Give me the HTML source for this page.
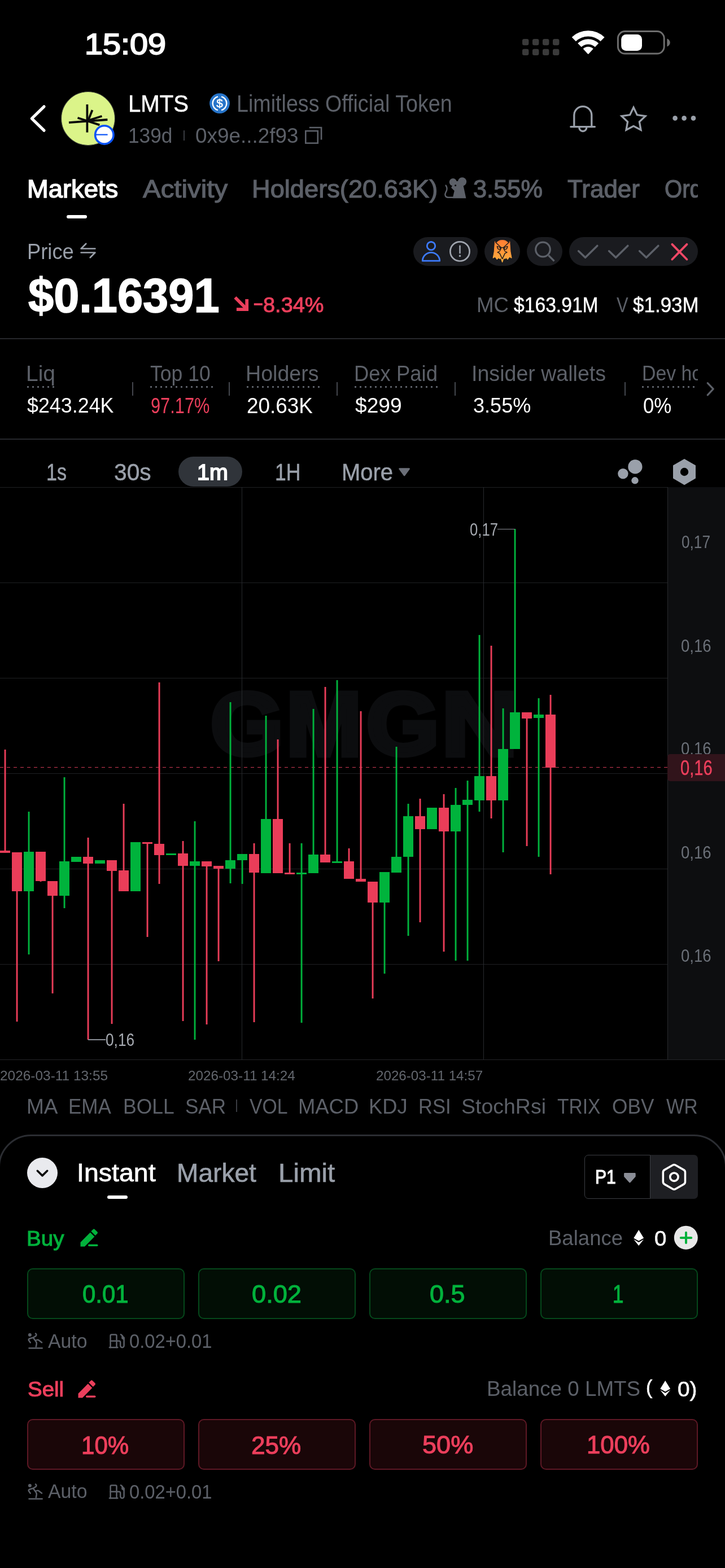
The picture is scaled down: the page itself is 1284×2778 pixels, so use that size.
<!DOCTYPE html>
<html lang="en">
<head>
<meta charset="utf-8">
<meta name="viewport" content="width=1284, initial-scale=1">
<title>LMTS – Limitless Official Token</title>
<style>
*{box-sizing:border-box;margin:0;padding:0}
html,body{width:1284px;height:2778px;background:#000;overflow:hidden}
body{font-family:"Liberation Sans",Arial,sans-serif;color:#fff;position:relative;-webkit-font-smoothing:antialiased}
#app{position:absolute;left:0;top:0;width:1284px;height:2778px;overflow:hidden;background:#000}
.t{position:absolute;white-space:pre;transform-origin:0 0;display:block}
.abs{position:absolute;display:block}
.clip{position:absolute;overflow:hidden}
.hr{position:absolute;left:0;width:1284px;height:2px;background:#26282c}
.pill{position:absolute;top:420px;height:50.5px;border-radius:26px;background:#1a1b1f}
.vsep{position:absolute;width:2px;background:#44474e}
.dot{position:absolute;height:3px;top:684px;background-image:linear-gradient(90deg,#5c6068 0 3px,transparent 3px 9px);background-size:9px 3px;background-repeat:repeat-x}
.btn{position:absolute;width:279px;height:90px;border-radius:10px;border:2px solid}
.buy{top:2247px;background:#020e05;border-color:#05481b}
.sell{top:2514px;background:#1a0608;border-color:#5e1825}
section,header,nav,footer,main{display:block}
</style>
</head>
<body>
<div id="app">

<!-- ===== status bar ===== -->
<header id="statusbar">
<span class="t" style="left:149.8px;top:53px;font-size:51.14px;line-height:51.14px;color:#ffffff;transform:scaleX(1.1249);-webkit-text-stroke:2.0px #ffffff;">15:09</span>
<svg class="abs" style="left:900px;top:30px" width="320" height="100" viewBox="900 30 320 100">
  <g fill="#3a3a3a">
    <rect x="925" y="69" width="11.4" height="11.3" rx="3.2"/><rect x="943" y="69" width="11.4" height="11.3" rx="3.2"/><rect x="961" y="69" width="11.4" height="11.3" rx="3.2"/><rect x="979" y="69" width="11.4" height="11.3" rx="3.2"/>
    <rect x="925" y="86.7" width="11.4" height="11.3" rx="3.2"/><rect x="943" y="86.7" width="11.4" height="11.3" rx="3.2"/><rect x="961" y="86.7" width="11.4" height="11.3" rx="3.2"/><rect x="979" y="86.7" width="11.4" height="11.3" rx="3.2"/>
  </g>
  <g fill="#fff"><path d="M1012.8 65.9A41.6 41.6 0 0 1 1070.6 65.9L1063.5 73.2A31.4 31.4 0 0 0 1019.9 73.2Z"/><path d="M1023.2 76.7A26.6 26.6 0 0 1 1060.2 76.7L1053.8 83.3A17.4 17.4 0 0 0 1029.6 83.3Z"/><path d="M1032.7 86.5A12.9 12.9 0 0 1 1050.7 86.5L1042.7 95.2Q1041.7 96.2 1040.7 95.2Z"/></g>
  <rect x="1094.400" y="55.600" width="81.800" height="39.500" rx="12.500" fill="none" stroke="#6e6e6e" stroke-width="3"/>
  <rect x="1100.2" y="61" width="36.8" height="29" rx="8.5" fill="#fff"/>
  <path d="M1181.3 68.4c3.2 1 5.4 3.8 5.4 7s-2.2 6-5.4 7z" fill="#6e6e6e"/>
</svg>
</header>

<!-- ===== token header ===== -->
<section id="tokenhead">
<svg class="abs" style="left:30px;top:150px" width="240" height="120" viewBox="30 150 240 120">
  <path d="M78 188.8 56.3 210 78 231.2" fill="none" stroke="#fff" stroke-width="5.2" stroke-linecap="round" stroke-linejoin="round"/>
  <circle cx="156" cy="210" r="47.5" fill="#dbf489" stroke="#3d4138" stroke-width="1.2"/>
  <g stroke="#0a0a0a" stroke-width="3.8" fill="none">
    <path d="M154.4 185v49.6"/><path d="M122 217.2 190.4 212"/><path d="M137.5 208.8 176.4 221.4"/><path d="M163.5 195 156.3 213"/><path d="M180.5 205.8 154.4 214"/>
  </g>
  <circle cx="184.800" cy="238.900" r="16.200" fill="#fff" stroke="#0a53f7" stroke-width="3.600"/>
  <path d="M170 238.600h20.600" stroke="#0a53f7" stroke-width="2.200"/>
</svg>
<svg class="abs" style="left:365px;top:160px" width="48" height="48" viewBox="365 160 48 48">
  <circle cx="389" cy="183.100" r="17.900" fill="#2775ca"/>
  <path d="M385.900 171.100a12.400 12.400 0 0 0 0 24M392.100 171.100a12.400 12.400 0 0 1 0 24" fill="none" stroke="#fff" stroke-width="2.400"/>
  <text x="389" y="190.100" font-family="Liberation Sans, sans-serif" font-size="20.500" text-anchor="middle" fill="#fff" stroke="#fff" stroke-width="0.500">$</text>
</svg>
<span class="t" style="left:227.0px;top:162px;font-size:42.55px;line-height:42.55px;color:#ffffff;transform:scaleX(0.9420);-webkit-text-stroke:0.6px #ffffff;">LMTS</span>
<span class="t" style="left:418.8px;top:163px;font-size:42.27px;line-height:42.27px;color:#5c6068;transform:scaleX(0.8911);">Limitless Official Token</span>
<span class="t" style="left:227.0px;top:222px;font-size:37.40px;line-height:37.40px;color:#5c6068;transform:scaleX(0.9430);">139d</span>
<span class="t" style="left:346.0px;top:222px;font-size:37.40px;line-height:37.40px;color:#5c6068;transform:scaleX(0.9864);">0x9e...2f93</span>
<div class="vsep" style="left:324.6px;top:231px;height:17.5px;background:#3a3c42"></div>
<svg class="abs" style="left:536px;top:220px" width="40" height="40" viewBox="536 220 40 40">
  <rect x="541.3" y="232" width="21.5" height="21.6" fill="none" stroke="#5c6068" stroke-width="2.6"/>
  <path d="M547.8 226h21.3v21.6" fill="none" stroke="#5c6068" stroke-width="2.6"/>
</svg>
<svg class="abs" style="left:1000px;top:170px" width="250" height="80" viewBox="1000 170 250 80">
  <g fill="none" stroke="#9aa0aa" stroke-width="3.300" stroke-linecap="round" stroke-linejoin="round">
    <path d="M1016.8 224.6v-20.5a15.5 15.5 0 0 1 31 0v20.5"/>
    <path d="M1010.8 224.6h42.6"/>
    <path d="M1025.8 226a6.5 6.5 0 0 0 13 0"/>
    <path d="M1122 190.3l6.4 13.3 14.6 2-10.6 10.2 2.6 14.5-13-7-13 7 2.6-14.5-10.6-10.200 14.6-2z" stroke-linejoin="miter"/>
  </g>
  <g fill="#9aa0aa"><circle cx="1195.6" cy="209.4" r="4.3"/><circle cx="1211.6" cy="209.4" r="4.3"/><circle cx="1228" cy="209.4" r="4.3"/></g>
</svg>
</section>

<!-- ===== tabs ===== -->
<nav id="tabs">
<span class="t" style="left:47.5px;top:312px;font-size:44.79px;line-height:44.79px;color:#ffffff;transform:scaleX(1.0117);-webkit-text-stroke:1.6px #ffffff;">Markets</span>
<span class="t" style="left:253.0px;top:312px;font-size:44.79px;line-height:44.79px;color:#5c6068;transform:scaleX(1.0588);-webkit-text-stroke:1.2px #5c6068;">Activity</span>
<span class="t" style="left:446.0px;top:312px;font-size:44.79px;line-height:44.79px;color:#5c6068;transform:scaleX(1.0098);-webkit-text-stroke:1.2px #5c6068;">Holders(20.63K)</span>
<span class="t" style="left:838.4px;top:313px;font-size:44.05px;line-height:44.05px;color:#5c6068;transform:scaleX(0.9843);-webkit-text-stroke:1.2px #5c6068;">3.55%</span>
<span class="t" style="left:1005.0px;top:312px;font-size:44.79px;line-height:44.79px;color:#5c6068;transform:scaleX(0.9829);-webkit-text-stroke:1.2px #5c6068;">Trader</span>
<div class="clip" style="left:1170px;top:300px;width:66px;height:70px"><span class="t" style="left:7.1px;top:13px;font-size:44.54px;line-height:44.54px;color:#5c6068;transform:scaleX(0.9000);-webkit-text-stroke:1.2px #5c6068;">Orders</span></div>
<div class="abs" style="left:117.500px;top:381px;width:36px;height:6px;border-radius:3px;background:#fff"></div>
<svg class="abs" style="left:784px;top:308px" width="46" height="48" viewBox="784 308 46 48">
  <g fill="#5c6068">
    <circle cx="802.3" cy="322.6" r="6.6"/><circle cx="818.6" cy="321.8" r="7.6"/>
    <path d="M806 322c6-2.500 12-1 14 4l5.400 25.200h-23.800l3.100-13.200-5.600-5.600 4.600-8.600z"/>
  </g>
  <circle cx="806.600" cy="328.600" r="1.500" fill="#000"/>
  <path d="M789.6 328.500c2.800 4 2.600 8-.2 12.400-2.200 4-1 8.600 4 8.800h8.500" fill="none" stroke="#5c6068" stroke-width="2.400" stroke-linecap="round"/>
</svg>
</nav>

<!-- ===== price ===== -->
<section id="price">
<span class="t" style="left:47.7px;top:427px;font-size:38.24px;line-height:38.24px;color:#9aa0aa;transform:scaleX(0.9508);">Price</span>
<span class="t" style="left:50.0px;top:482px;font-size:84.92px;line-height:84.92px;color:#ffffff;transform:scaleX(0.9560);font-weight:700;-webkit-text-stroke:1.6px #ffffff;">$0.16391</span>
<span class="t" style="left:447.0px;top:512px;font-size:47.84px;line-height:47.84px;color:#ec3f5c;transform:scaleX(1.3004);">-</span><span class="t" style="left:465.8px;top:522px;font-size:37.47px;line-height:37.47px;color:#ec3f5c;transform:scaleX(1.0121);-webkit-text-stroke:1.0px #ec3f5c;">8.34%</span>
<span class="t" style="left:844.2px;top:522px;font-size:37.13px;line-height:37.13px;color:#5c6068;transform:scaleX(0.9879);">MC</span>
<span class="t" style="left:909.5px;top:522px;font-size:37.13px;line-height:37.13px;color:#ffffff;transform:scaleX(0.9062);-webkit-text-stroke:0.5px #ffffff;">$163.91M</span>
<span class="t" style="left:1092.3px;top:522px;font-size:37.13px;line-height:37.13px;color:#5c6068;transform:scaleX(0.8339);">V</span>
<span class="t" style="left:1120.5px;top:522px;font-size:37.47px;line-height:37.47px;color:#ffffff;transform:scaleX(0.9338);-webkit-text-stroke:0.5px #ffffff;">$1.93M</span>
<svg class="abs" style="left:136px;top:425px" width="40" height="40" viewBox="136 425 40 40">
  <g fill="none" stroke="#9aa0aa" stroke-width="2.700" stroke-linecap="round" stroke-linejoin="round">
    <path d="M152.300 431.700 143.600 440.500H168.400"/><path d="M159.700 456.300 168.400 447.500H143.600"/>
  </g>
</svg>
<svg class="abs" style="left:410px;top:520px" width="36" height="36" viewBox="410 520 36 36">
  <g fill="none" stroke="#ec3f5c" stroke-width="5.800" stroke-linejoin="miter">
    <path d="M416.400 527 436.400 547"/><path d="M437.200 530v18.100h-18.300"/>
  </g>
</svg>
<div class="pill" style="left:732.2px;width:114px"></div>
<div class="pill" style="left:858px;width:63px"></div>
<div class="pill" style="left:933.2px;width:63px"></div>
<div class="pill" style="left:1008px;width:228px"></div>
<svg class="abs" style="left:730px;top:415px" width="510" height="60" viewBox="730 415 510 60">
  <g fill="none" stroke="#3d7bff" stroke-width="2.800" stroke-linejoin="round">
    <circle cx="763.5" cy="435.700" r="7.200"/>
    <path d="M748.300 462.200c0-8 6.800-14.800 15.200-14.800s15.200 6.800 15.200 14.800z"/>
  </g>
  <circle cx="814.5" cy="445.400" r="17.100" fill="none" stroke="#a0a5ae" stroke-width="2.700"/>
  <path d="M814.500 435.800v12.500" stroke="#9aa0aa" stroke-width="2.600" stroke-linecap="round"/>
  <circle cx="814.500" cy="453.400" r="1.800" fill="#9aa0aa"/>
  <defs><linearGradient id="eg" x1="0" y1="0" x2="0" y2="1"><stop offset="0" stop-color="#ff7d33"/><stop offset="1" stop-color="#ffb03f"/></linearGradient></defs><path d="M889.6 425.6 L894.1 426.1 L897.6 427.9 L899.9 430.2 L902.8 427.9 L903.0 432.5 L903.4 438.0 L904.0 446.0 L906.1 457.2 L902.4 455.2 L899.0 459.8 L896.4 456.8 L894.2 458.6 L892.2 457.4 L889.6 464.8 L887.0 457.4 L885.0 458.6 L882.8 456.8 L880.2 459.8 L876.8 455.2 L873.1 457.2 L875.2 446.0 L875.8 438.0 L876.2 432.5 L876.4 427.9 L879.3 430.2 L881.6 427.9 L885.1 426.1Z" fill="url(#eg)" stroke="url(#eg)" stroke-width="1" stroke-linejoin="round"/><path d="M877.4 429 L887.2 438.2 Q889.6 439.4 892.0 438.2 L901.8 429 M880.4 436.4 Q881.0 441.6 884.2 441.9 Q886.2 441.4 887.0 439.6 Q883.6 437 880.4 436.4 M898.8 436.4 Q898.2 441.6 895.0 441.9 Q893.0 441.4 892.2 439.6 Q895.6 437 898.8 436.4 M887.4 440.2 L885.0 445 L881.2 447 L884.8 448.6 L889.6 458.6 L894.4 448.6 L898.0 447 L894.2 445 L891.8 440.2" fill="none" stroke="#17181b" stroke-width="1.400" stroke-linejoin="round" stroke-linecap="round"/>
  <circle cx="961.500" cy="442" r="12.800" fill="none" stroke="#5c6068" stroke-width="3.200"/>
  <path d="M971.500 452.500 981.500 462.500" stroke="#5c6068" stroke-width="3.200" stroke-linecap="butt"/>
  <g fill="none" stroke="#5c6068" stroke-width="3.500" stroke-linecap="round" stroke-linejoin="round">
    <path d="M1024.600 444.800 1036.600 456.300 1057.800 435.400"/><path d="M1078.600 444.800 1090.600 456.300 1111.800 435.400"/><path d="M1132.600 444.800 1144.600 456.300 1165.800 435.400"/>
  </g>
  <path d="M1190.400 432.800 1216.400 459.500M1216.400 432.800 1190.400 459.500" stroke="#f04866" stroke-width="3.900" stroke-linecap="round"/>
</svg>
</section>
<div class="hr" style="top:598.7px"></div>

<!-- ===== stats ===== -->
<section id="stats">
<span class="t" style="left:46.4px;top:642px;font-size:39.32px;line-height:39.32px;color:#5c6068;transform:scaleX(0.9920);">Liq</span>
<span class="t" style="left:48.4px;top:700px;font-size:37.30px;line-height:37.30px;color:#ffffff;transform:scaleX(0.9610);">$243.24K</span>
<span class="t" style="left:266.0px;top:642px;font-size:39.09px;line-height:39.09px;color:#5c6068;transform:scaleX(0.9094);">Top 10</span>
<span class="t" style="left:267.0px;top:701px;font-size:37.87px;line-height:37.87px;color:#ec3f5c;transform:scaleX(0.8126);">97.17%</span>
<span class="t" style="left:435.3px;top:642px;font-size:39.09px;line-height:39.09px;color:#5c6068;transform:scaleX(0.9622);">Holders</span>
<span class="t" style="left:437.3px;top:701px;font-size:37.87px;line-height:37.87px;color:#ffffff;transform:scaleX(0.9742);">20.63K</span>
<span class="t" style="left:626.8px;top:642px;font-size:39.09px;line-height:39.09px;color:#5c6068;transform:scaleX(0.9329);">Dex Paid</span>
<span class="t" style="left:628.8px;top:700px;font-size:37.30px;line-height:37.30px;color:#ffffff;transform:scaleX(0.9961);">$299</span>
<span class="t" style="left:835.3px;top:642px;font-size:39.32px;line-height:39.32px;color:#5c6068;transform:scaleX(0.9559);">Insider wallets</span>
<span class="t" style="left:838.3px;top:700px;font-size:37.30px;line-height:37.30px;color:#ffffff;transform:scaleX(0.9679);">3.55%</span>
<div class="clip" style="left:1130px;top:630px;width:106px;height:70px"><span class="t" style="left:7.0px;top:13px;font-size:37.57px;line-height:37.57px;color:#5c6068;transform:scaleX(0.9000);">Dev holds</span></div>
<span class="t" style="left:1138.5px;top:701px;font-size:37.86px;line-height:37.86px;color:#ffffff;transform:scaleX(0.9200);">0%</span>
<div class="dot" style="left:48px;width:48px"></div>
<div class="dot" style="left:266px;width:111px"></div>
<div class="dot" style="left:437px;width:129px"></div>
<div class="dot" style="left:628px;width:147px"></div>
<div class="dot" style="left:1137px;width:98px"></div>
<div class="vsep" style="left:234.400px;top:677px;height:23.500px"></div>
<div class="vsep" style="left:404.800px;top:677px;height:23.500px"></div>
<div class="vsep" style="left:596.200px;top:677px;height:23.500px"></div>
<div class="vsep" style="left:805.300px;top:677px;height:23.500px"></div>
<div class="vsep" style="left:1105.600px;top:677px;height:23.500px"></div>
<svg class="abs" style="left:1244px;top:670px" width="30" height="40" viewBox="1244 670 30 40">
  <path d="M1253.200 678.600 1263.200 689.200 1253.200 699.800" fill="none" stroke="#5c6068" stroke-width="3.200" stroke-linecap="round" stroke-linejoin="round"/>
</svg>
</section>
<div class="hr" style="top:776.700px"></div>

<!-- ===== timeframe ===== -->
<section id="timeframe">
<div class="abs" style="left:315.600px;top:809.400px;width:113px;height:53px;border-radius:27px;background:#30343a"></div>
<span class="t" style="left:81.6px;top:816px;font-size:42.20px;line-height:42.20px;color:#9aa0aa;transform:scaleX(0.8089);-webkit-text-stroke:0.5px #9aa0aa;">1s</span>
<span class="t" style="left:201.8px;top:816px;font-size:42.20px;line-height:42.20px;color:#9aa0aa;transform:scaleX(0.9657);-webkit-text-stroke:0.5px #9aa0aa;">30s</span>
<span class="t" style="left:348.9px;top:817px;font-size:39.27px;line-height:39.27px;color:#ffffff;transform:scaleX(1.0041);-webkit-text-stroke:1.8px #ffffff;">1m</span>
<span class="t" style="left:486.7px;top:815px;font-size:42.55px;line-height:42.55px;color:#9aa0aa;transform:scaleX(0.8353);-webkit-text-stroke:0.5px #9aa0aa;">1H</span>
<span class="t" style="left:604.5px;top:815px;font-size:42.55px;line-height:42.55px;color:#9aa0aa;transform:scaleX(0.9399);-webkit-text-stroke:0.5px #9aa0aa;">More</span>
<svg class="abs" style="left:700px;top:800px" width="560" height="64" viewBox="700 800 560 64">
  <path d="M707.500 829.200h17.200c1 0 1.600 1.200 1 2l-8.400 11.600c-.6.800-1.800.8-2.400 0l-8.400-11.600c-.6-.8 0-2 1-2z" fill="#6b6f78"/>
  <g fill="#9aa0aa">
    <circle cx="1124.900" cy="826.900" r="12.600"/><circle cx="1103.400" cy="839.300" r="9.200"/><circle cx="1124.500" cy="851.300" r="6.200"/>
    <path fill-rule="evenodd" d="M1212 813 1232 824.500v23.100L1212 859.200 1192 847.600v-23.100zM1212 828.800a7.200 7.200 0 1 0 0 14.400 7.200 7.200 0 0 0 0-14.400z"/>
  </g>
</svg>
</section>

<!-- ===== chart ===== -->
<section id="chart">
<div id="watermark" aria-label="GMGN"><span class="t" style="left:373.0px;top:1205px;font-size:155.78px;line-height:155.78px;color:#0c0d0f;transform:scaleX(1.0626);font-weight:700;-webkit-text-stroke:9px #0c0d0f;">G</span><span class="t" style="left:507.0px;top:1204px;font-size:159.30px;line-height:159.30px;color:#0c0d0f;transform:scaleX(1.0042);font-weight:700;-webkit-text-stroke:9px #0c0d0f;">M</span><span class="t" style="left:649.0px;top:1205px;font-size:155.78px;line-height:155.78px;color:#0c0d0f;transform:scaleX(1.0626);font-weight:700;-webkit-text-stroke:9px #0c0d0f;">G</span><span class="t" style="left:782.0px;top:1204px;font-size:159.30px;line-height:159.30px;color:#0c0d0f;transform:scaleX(1.1735);font-weight:700;-webkit-text-stroke:9px #0c0d0f;">N</span></div>
<svg class="abs" style="left:0;top:863px" width="1284" height="1016" viewBox="0 863 1284 1016" shape-rendering="crispEdges">
<rect x="1182" y="863" width="102" height="1015" fill="#0d0e10"/>
<rect x="0" y="863" width="1182" height="1" fill="#1f2023"/>
<rect x="0" y="1032" width="1182" height="1" fill="#1f2023"/>
<rect x="0" y="1201" width="1182" height="1" fill="#1f2023"/>
<rect x="0" y="1370" width="1182" height="1" fill="#1f2023"/>
<rect x="0" y="1539" width="1182" height="1" fill="#1f2023"/>
<rect x="0" y="1708" width="1182" height="1" fill="#1f2023"/>
<rect x="0" y="1877" width="1182" height="1" fill="#1f2023"/>
<rect x="428" y="863" width="1" height="1015" fill="#27292d"/>
<rect x="856" y="863" width="1" height="1015" fill="#27292d"/>
<rect x="1182" y="863" width="1" height="1015" fill="#27292d"/>
<rect x="0" y="1877" width="1284" height="1" fill="#242528"/>
<line x1="0" y1="1359.5" x2="1182" y2="1359.5" stroke="#d03a55" stroke-width="1" stroke-dasharray="6 6" stroke-dashoffset="0"/>
<rect x="7.6" y="1328" width="2.9" height="183" fill="#ea3d59" shape-rendering="geometricPrecision"/>
<rect x="0" y="1507" width="18" height="4" fill="#ea3d59"/>
<rect x="28.6" y="1510" width="2.9" height="300" fill="#ea3d59" shape-rendering="geometricPrecision"/>
<rect x="21" y="1510" width="18" height="69" fill="#ea3d59"/>
<rect x="49.6" y="1438" width="2.9" height="253" fill="#00b33c" shape-rendering="geometricPrecision"/>
<rect x="42" y="1509" width="18" height="70" fill="#00b33c"/>
<rect x="70.6" y="1509" width="2.9" height="53" fill="#ea3d59" shape-rendering="geometricPrecision"/>
<rect x="63" y="1509" width="18" height="52" fill="#ea3d59"/>
<rect x="91.6" y="1561" width="2.9" height="199" fill="#ea3d59" shape-rendering="geometricPrecision"/>
<rect x="84" y="1561" width="18" height="26" fill="#ea3d59"/>
<rect x="112.6" y="1377" width="2.9" height="232" fill="#00b33c" shape-rendering="geometricPrecision"/>
<rect x="105" y="1526" width="18" height="61" fill="#00b33c"/>
<rect x="133.6" y="1518" width="2.9" height="9" fill="#00b33c" shape-rendering="geometricPrecision"/>
<rect x="126" y="1518" width="18" height="9" fill="#00b33c"/>
<rect x="154.6" y="1484" width="2.9" height="358" fill="#ea3d59" shape-rendering="geometricPrecision"/>
<rect x="147" y="1518" width="18" height="12" fill="#ea3d59"/>
<rect x="175.6" y="1524" width="2.9" height="6" fill="#00b33c" shape-rendering="geometricPrecision"/>
<rect x="168" y="1524" width="18" height="6" fill="#00b33c"/>
<rect x="196.6" y="1524" width="2.9" height="290" fill="#ea3d59" shape-rendering="geometricPrecision"/>
<rect x="189" y="1524" width="18" height="19" fill="#ea3d59"/>
<rect x="217.6" y="1424" width="2.9" height="155" fill="#ea3d59" shape-rendering="geometricPrecision"/>
<rect x="210" y="1542" width="18" height="37" fill="#ea3d59"/>
<rect x="238.6" y="1492" width="2.9" height="87" fill="#00b33c" shape-rendering="geometricPrecision"/>
<rect x="231" y="1492" width="18" height="87" fill="#00b33c"/>
<rect x="259.6" y="1492" width="2.9" height="168" fill="#ea3d59" shape-rendering="geometricPrecision"/>
<rect x="252" y="1492" width="18" height="3" fill="#ea3d59"/>
<rect x="280.6" y="1209" width="2.9" height="357" fill="#ea3d59" shape-rendering="geometricPrecision"/>
<rect x="273" y="1495" width="18" height="20" fill="#ea3d59"/>
<rect x="301.6" y="1512" width="2.9" height="3" fill="#00b33c" shape-rendering="geometricPrecision"/>
<rect x="294" y="1512" width="18" height="3" fill="#00b33c"/>
<rect x="322.6" y="1490" width="2.9" height="319" fill="#ea3d59" shape-rendering="geometricPrecision"/>
<rect x="315" y="1512" width="18" height="22" fill="#ea3d59"/>
<rect x="343.6" y="1455" width="2.9" height="387" fill="#00b33c" shape-rendering="geometricPrecision"/>
<rect x="336" y="1526" width="18" height="8" fill="#00b33c"/>
<rect x="364.6" y="1526" width="2.9" height="289" fill="#ea3d59" shape-rendering="geometricPrecision"/>
<rect x="357" y="1526" width="18" height="9" fill="#ea3d59"/>
<rect x="385.6" y="1534" width="2.9" height="169" fill="#ea3d59" shape-rendering="geometricPrecision"/>
<rect x="378" y="1534" width="18" height="5" fill="#ea3d59"/>
<rect x="406.6" y="1244" width="2.9" height="321" fill="#00b33c" shape-rendering="geometricPrecision"/>
<rect x="399" y="1524" width="18" height="15" fill="#00b33c"/>
<rect x="427.6" y="1513" width="2.9" height="53" fill="#00b33c" shape-rendering="geometricPrecision"/>
<rect x="420" y="1513" width="18" height="11" fill="#00b33c"/>
<rect x="448.6" y="1494" width="2.9" height="317" fill="#ea3d59" shape-rendering="geometricPrecision"/>
<rect x="441" y="1513" width="18" height="33" fill="#ea3d59"/>
<rect x="469.6" y="1268" width="2.9" height="279" fill="#00b33c" shape-rendering="geometricPrecision"/>
<rect x="462" y="1451" width="18" height="96" fill="#00b33c"/>
<rect x="490.6" y="1310" width="2.9" height="237" fill="#ea3d59" shape-rendering="geometricPrecision"/>
<rect x="483" y="1451" width="18" height="96" fill="#ea3d59"/>
<rect x="511.6" y="1494" width="2.9" height="55" fill="#ea3d59" shape-rendering="geometricPrecision"/>
<rect x="504" y="1546" width="18" height="3" fill="#ea3d59"/>
<rect x="532.6" y="1494" width="2.9" height="318" fill="#00b33c" shape-rendering="geometricPrecision"/>
<rect x="525" y="1546" width="18" height="3" fill="#00b33c"/>
<rect x="553.6" y="1256" width="2.9" height="291" fill="#00b33c" shape-rendering="geometricPrecision"/>
<rect x="546" y="1514" width="18" height="33" fill="#00b33c"/>
<rect x="574.6" y="1217" width="2.9" height="311" fill="#ea3d59" shape-rendering="geometricPrecision"/>
<rect x="567" y="1514" width="18" height="14" fill="#ea3d59"/>
<rect x="595.6" y="1205" width="2.9" height="324" fill="#00b33c" shape-rendering="geometricPrecision"/>
<rect x="588" y="1526" width="18" height="3" fill="#00b33c"/>
<rect x="616.6" y="1503" width="2.9" height="54" fill="#ea3d59" shape-rendering="geometricPrecision"/>
<rect x="609" y="1526" width="18" height="31" fill="#ea3d59"/>
<rect x="637.6" y="1260" width="2.9" height="302" fill="#ea3d59" shape-rendering="geometricPrecision"/>
<rect x="630" y="1557" width="18" height="5" fill="#ea3d59"/>
<rect x="658.6" y="1562" width="2.9" height="207" fill="#ea3d59" shape-rendering="geometricPrecision"/>
<rect x="651" y="1562" width="18" height="37" fill="#ea3d59"/>
<rect x="679.6" y="1545" width="2.9" height="180" fill="#00b33c" shape-rendering="geometricPrecision"/>
<rect x="672" y="1545" width="18" height="54" fill="#00b33c"/>
<rect x="700.6" y="1323" width="2.9" height="223" fill="#00b33c" shape-rendering="geometricPrecision"/>
<rect x="693" y="1518" width="18" height="28" fill="#00b33c"/>
<rect x="721.6" y="1424" width="2.9" height="234" fill="#00b33c" shape-rendering="geometricPrecision"/>
<rect x="714" y="1446" width="18" height="72" fill="#00b33c"/>
<rect x="742.6" y="1415" width="2.9" height="219" fill="#ea3d59" shape-rendering="geometricPrecision"/>
<rect x="735" y="1446" width="18" height="23" fill="#ea3d59"/>
<rect x="763.6" y="1431" width="2.9" height="38" fill="#00b33c" shape-rendering="geometricPrecision"/>
<rect x="756" y="1431" width="18" height="38" fill="#00b33c"/>
<rect x="784.6" y="1407" width="2.9" height="279" fill="#ea3d59" shape-rendering="geometricPrecision"/>
<rect x="777" y="1431" width="18" height="42" fill="#ea3d59"/>
<rect x="805.6" y="1396" width="2.9" height="306" fill="#00b33c" shape-rendering="geometricPrecision"/>
<rect x="798" y="1426" width="18" height="47" fill="#00b33c"/>
<rect x="826.6" y="1383" width="2.9" height="319" fill="#00b33c" shape-rendering="geometricPrecision"/>
<rect x="819" y="1417" width="18" height="9" fill="#00b33c"/>
<rect x="847.6" y="1125" width="2.9" height="313" fill="#00b33c" shape-rendering="geometricPrecision"/>
<rect x="840" y="1375" width="18" height="43" fill="#00b33c"/>
<rect x="868.6" y="1144" width="2.9" height="306" fill="#ea3d59" shape-rendering="geometricPrecision"/>
<rect x="861" y="1375" width="18" height="43" fill="#ea3d59"/>
<rect x="889.6" y="1255" width="2.9" height="255" fill="#00b33c" shape-rendering="geometricPrecision"/>
<rect x="882" y="1327" width="18" height="91" fill="#00b33c"/>
<rect x="910.6" y="937" width="2.9" height="390" fill="#00b33c" shape-rendering="geometricPrecision"/>
<rect x="903" y="1262" width="18" height="65" fill="#00b33c"/>
<rect x="931.6" y="1262" width="2.9" height="237" fill="#ea3d59" shape-rendering="geometricPrecision"/>
<rect x="924" y="1262" width="18" height="11" fill="#ea3d59"/>
<rect x="952.6" y="1237" width="2.9" height="281" fill="#00b33c" shape-rendering="geometricPrecision"/>
<rect x="945" y="1266" width="18" height="6" fill="#00b33c"/>
<rect x="973.6" y="1231" width="2.9" height="318" fill="#ea3d59" shape-rendering="geometricPrecision"/>
<rect x="966" y="1266" width="18" height="94" fill="#ea3d59"/>
<rect x="880.5" y="936.5" width="31" height="1.5" fill="#8a8e96"/>
<rect x="156" y="1841" width="31" height="1.5" fill="#8a8e96"/>
</svg>
<span class="t" style="left:1207.4px;top:945px;font-size:31.06px;line-height:31.06px;color:#6b7078;transform:scaleX(0.8445);">0,17</span>
<span class="t" style="left:1206.0px;top:1129px;font-size:31.43px;line-height:31.43px;color:#6b7078;transform:scaleX(0.8774);">0,16</span>
<span class="t" style="left:1206.0px;top:1311px;font-size:31.43px;line-height:31.43px;color:#6b7078;transform:scaleX(0.8774);">0,16</span>
<span class="t" style="left:1206.0px;top:1495px;font-size:31.43px;line-height:31.43px;color:#6b7078;transform:scaleX(0.8774);">0,16</span>
<span class="t" style="left:1206.0px;top:1678px;font-size:31.43px;line-height:31.43px;color:#6b7078;transform:scaleX(0.8774);">0,16</span>
<span class="t" style="left:831.5px;top:923px;font-size:31.43px;line-height:31.43px;color:#a6aab1;transform:scaleX(0.8178);">0,17</span>
<span class="t" style="left:187.4px;top:1827px;font-size:31.58px;line-height:31.58px;color:#a6aab1;transform:scaleX(0.8324);">0,16</span>
<span class="t" style="left:0.1px;top:1894px;font-size:24.29px;line-height:24.29px;color:#63676e;transform:scaleX(1.0062);">2026-03-11 13:55</span>
<span class="t" style="left:332.6px;top:1894px;font-size:24.29px;line-height:24.29px;color:#63676e;transform:scaleX(0.9998);">2026-03-11 14:24</span>
<span class="t" style="left:665.8px;top:1894px;font-size:24.29px;line-height:24.29px;color:#63676e;transform:scaleX(0.9960);">2026-03-11 14:57</span>
<div class="abs" id="pricetag" style="left:1182px;top:1336px;width:110px;height:47.500px;border-radius:5px;background:#31141b"></div>
<span class="t" style="left:1204.5px;top:1343px;font-size:36.89px;line-height:36.89px;color:#ec3f5c;transform:scaleX(0.7902);-webkit-text-stroke:0.4px #ec3f5c;">0,16</span>
</section>

<!-- ===== indicators ===== -->
<section id="indicators">
<span class="t" style="left:46.9px;top:1942px;font-size:37.17px;line-height:37.17px;color:#5c6068;transform:scaleX(0.9974);">MA</span>
<span class="t" style="left:120.8px;top:1943px;font-size:36.14px;line-height:36.14px;color:#5c6068;transform:scaleX(0.9693);">EMA</span>
<span class="t" style="left:217.6px;top:1943px;font-size:36.14px;line-height:36.14px;color:#5c6068;transform:scaleX(0.9836);">BOLL</span>
<span class="t" style="left:327.9px;top:1942px;font-size:37.17px;line-height:37.17px;color:#5c6068;transform:scaleX(0.9429);">SAR</span>
<span class="t" style="left:442.2px;top:1942px;font-size:37.17px;line-height:37.17px;color:#5c6068;transform:scaleX(0.9079);">VOL</span>
<span class="t" style="left:527.8px;top:1942px;font-size:37.17px;line-height:37.17px;color:#5c6068;transform:scaleX(0.9800);">MACD</span>
<span class="t" style="left:653.4px;top:1942px;font-size:37.17px;line-height:37.17px;color:#5c6068;transform:scaleX(0.9778);">KDJ</span>
<span class="t" style="left:741.4px;top:1942px;font-size:37.17px;line-height:37.17px;color:#5c6068;transform:scaleX(0.9291);">RSI</span>
<span class="t" style="left:817.1px;top:1942px;font-size:37.17px;line-height:37.17px;color:#5c6068;transform:scaleX(1.0088);">StochRsi</span>
<span class="t" style="left:986.8px;top:1942px;font-size:37.17px;line-height:37.17px;color:#5c6068;transform:scaleX(0.9033);">TRIX</span>
<span class="t" style="left:1083.7px;top:1943px;font-size:36.43px;line-height:36.43px;color:#5c6068;transform:scaleX(0.9679);">OBV</span>
<span class="t" style="left:1180.0px;top:1942px;font-size:37.17px;line-height:37.17px;color:#5c6068;transform:scaleX(0.8975);">WR</span>
<div class="vsep" style="left:418.400px;top:1948px;height:22px;background:#3a3c42"></div>
</section>

<!-- ===== trade panel ===== -->
<section id="panel">
<div class="abs" style="left:-3px;top:2010px;width:1290px;height:900px;border:3px solid #2b2d32;border-radius:58px 58px 0 0;background:#000"></div>
<svg class="abs" style="left:40px;top:2040px" width="80" height="80" viewBox="40 2040 80 80">
  <circle cx="75" cy="2078" r="27" fill="#e9eaee"/>
  <path d="M66.300 2074.300 75 2082.900 83.700 2074.300" fill="none" stroke="#0a0a0a" stroke-width="3.600" stroke-linecap="round" stroke-linejoin="round"/>
</svg>
<div class="abs" style="left:190.200px;top:2117.700px;width:35.500px;height:6.300px;border-radius:3.200px;background:#fff"></div>
<div class="abs" style="left:1035.300px;top:2046.200px;width:117px;height:77.500px;border:1.500px solid #3c3e44;border-radius:7px 0 0 7px;background:#000"></div>
<div class="abs" style="left:1151.700px;top:2046.200px;width:84.300px;height:77.500px;border-radius:0 7px 7px 0;background:#1e1f23"></div>
<svg class="abs" style="left:1100px;top:2055px" width="130" height="60" viewBox="1100 2055 130 60">
  <path d="M1106.500 2078h17.800c.8 0 1.400.6 1.400 1.400v4.600c0 .5-.2 1-.6 1.300l-8.700 9.800c-.6.600-1.500.6-2 0l-8.700-9.800c-.4-.3-.6-.8-.6-1.300v-4.600c0-.8.600-1.400 1.400-1.400z" fill="#8a8d96"/>
  <path d="M1191.40 2064.24A5 5 0 0 1 1196.40 2064.24L1210.97 2072.66A5 5 0 0 1 1213.47 2076.99L1213.47 2093.81A5 5 0 0 1 1210.97 2098.14L1196.40 2106.56A5 5 0 0 1 1191.40 2106.56L1176.83 2098.14A5 5 0 0 1 1174.33 2093.81L1174.33 2076.99A5 5 0 0 1 1176.83 2072.66Z" fill="none" stroke="#fff" stroke-width="3.600"/><circle cx="1193.900" cy="2085.200" r="7.200" fill="none" stroke="#fff" stroke-width="3.600"/>
</svg>
<span class="t" style="left:135.7px;top:2056px;font-size:44.05px;line-height:44.05px;color:#ffffff;transform:scaleX(1.0560);-webkit-text-stroke:0.8px #ffffff;">Instant</span>
<span class="t" style="left:313.3px;top:2056px;font-size:45.90px;line-height:45.90px;color:#9aa0aa;transform:scaleX(1.0045);-webkit-text-stroke:0.6px #9aa0aa;">Market</span>
<span class="t" style="left:492.8px;top:2055px;font-size:46.13px;line-height:46.13px;color:#9aa0aa;transform:scaleX(1.0296);-webkit-text-stroke:0.6px #9aa0aa;">Limit</span>
<span class="t" style="left:1053.6px;top:2067px;font-size:35.02px;line-height:35.02px;color:#ffffff;transform:scaleX(0.8607);-webkit-text-stroke:1.2px #ffffff;">P1</span>
<span class="t" style="left:46.6px;top:2176px;font-size:37.42px;line-height:37.42px;color:#02b23c;transform:scaleX(1.0315);-webkit-text-stroke:1.1px #02b23c;">Buy</span>
<span class="t" style="left:971.2px;top:2175px;font-size:37.40px;line-height:37.40px;color:#5c6068;transform:scaleX(0.9773);">Balance</span>
<span class="t" style="left:1158.9px;top:2177px;font-size:36.90px;line-height:36.90px;color:#ffffff;transform:scaleX(1.0393);-webkit-text-stroke:0.6px #ffffff;">0</span>
<span class="t" style="left:85.3px;top:2358px;font-size:35.23px;line-height:35.23px;color:#5c6068;transform:scaleX(0.9600);">Auto</span>
<span class="t" style="left:229.4px;top:2359px;font-size:35.57px;line-height:35.57px;color:#5c6068;transform:scaleX(0.9200);">0.02+0.01</span>
<span class="t" style="left:85.3px;top:2624px;font-size:35.23px;line-height:35.23px;color:#5c6068;transform:scaleX(0.9600);">Auto</span>
<span class="t" style="left:229.4px;top:2626px;font-size:35.57px;line-height:35.57px;color:#5c6068;transform:scaleX(0.9200);">0.02+0.01</span>
<span class="t" style="left:48.6px;top:2443px;font-size:37.42px;line-height:37.42px;color:#ec3f5c;transform:scaleX(1.0283);-webkit-text-stroke:1.1px #ec3f5c;">Sell</span>
<span class="t" style="left:862.3px;top:2442px;font-size:37.40px;line-height:37.40px;color:#5c6068;transform:scaleX(0.9846);">Balance 0 LMTS</span>
<span class="t" style="left:1143.7px;top:2441px;font-size:34.62px;line-height:34.62px;color:#ffffff;transform:scaleX(0.9880);-webkit-text-stroke:0.6px #ffffff;">(</span>
<span class="t" style="left:1199.5px;top:2444px;font-size:36.63px;line-height:36.63px;color:#ffffff;transform:scaleX(1.0594);-webkit-text-stroke:0.6px #ffffff;">0)</span>
<!-- pencil icons -->
<svg class="abs" style="left:140px;top:2174px" width="38" height="38" viewBox="0 0 38 38">
  <g fill="#02b23c"><path d="M2.500 34.400v-7.500L19.800 9.600l7.500 7.500L10 34.400z"/><path transform="translate(-0.9 0.3)" d="M22.200 7.200l3.600-3.600c.8-.8 2-.8 2.800 0l4.700 4.700c.8.800.8 2 0 2.800l-3.600 3.600z"/><rect x="16" y="30.600" width="17.500" height="3.400" rx="1.700"/></g>
</svg>
<svg class="abs" style="left:136.300px;top:2441.500px" width="38" height="38" viewBox="0 0 38 38">
  <g fill="#ec3f5c"><path d="M2.500 34.400v-7.500L19.800 9.600l7.500 7.500L10 34.400z"/><path transform="translate(-0.9 0.3)" d="M22.200 7.200l3.600-3.600c.8-.8 2-.8 2.800 0l4.700 4.700c.8.800.8 2 0 2.800l-3.600 3.600z"/><rect x="16" y="30.600" width="17.500" height="3.400" rx="1.700"/></g>
</svg>
<!-- eth icons -->
<svg class="abs" style="left:1120px;top:2176px" width="24" height="34" viewBox="0 0 24 34">
  <g fill="#fff"><path d="M11.200 3 20.100 17.500 11.200 22.600 2.300 17.500z"/><path d="M2.300 19.800 11.200 24.900 20.100 19.800 11.200 31z"/></g>
</svg>
<svg class="abs" style="left:1166.600px;top:2443px" width="24" height="34" viewBox="0 0 24 34">
  <g fill="#fff"><path d="M11.200 3 20.100 17.500 11.200 22.600 2.300 17.500z"/><path d="M2.300 19.800 11.200 24.900 20.100 19.800 11.200 31z"/></g>
</svg>
<!-- plus -->
<svg class="abs" style="left:1190px;top:2168px" width="50" height="50" viewBox="1190 2168 50 50">
  <circle cx="1214.800" cy="2192.700" r="21" fill="#e8e8e8"/>
  <path d="M1205.800 2192.900h18.400M1215 2183.700v18.400" stroke="#02b23c" stroke-width="4" stroke-linecap="round"/>
</svg>
<!-- buttons -->
<div class="btn buy" style="left:48px"></div><div class="btn buy" style="left:351px"></div><div class="btn buy" style="left:654px"></div><div class="btn buy" style="left:957px"></div>
<div class="btn sell" style="left:48px"></div><div class="btn sell" style="left:351px"></div><div class="btn sell" style="left:654px"></div><div class="btn sell" style="left:957px"></div>
<span class="t" style="left:145.8px;top:2270px;font-size:45.04px;line-height:45.04px;color:#02b23c;transform:scaleX(0.9302);-webkit-text-stroke:1.1px #02b23c;">0.01</span>
<span class="t" style="left:445.5px;top:2270px;font-size:45.04px;line-height:45.04px;color:#02b23c;transform:scaleX(1.0042);-webkit-text-stroke:1.1px #02b23c;">0.02</span>
<span class="t" style="left:761.2px;top:2271px;font-size:44.60px;line-height:44.60px;color:#02b23c;transform:scaleX(1.0079);-webkit-text-stroke:1.1px #02b23c;">0.5</span>
<span class="t" style="left:1084.7px;top:2271px;font-size:44.17px;line-height:44.17px;color:#02b23c;transform:scaleX(0.7897);-webkit-text-stroke:1.1px #02b23c;">1</span>
<span class="t" style="left:143.6px;top:2538px;font-size:44.79px;line-height:44.79px;color:#ec3f5c;transform:scaleX(0.9395);-webkit-text-stroke:1.1px #ec3f5c;">10%</span>
<span class="t" style="left:445.4px;top:2538px;font-size:44.79px;line-height:44.79px;color:#ec3f5c;transform:scaleX(0.9839);-webkit-text-stroke:1.1px #ec3f5c;">25%</span>
<span class="t" style="left:747.7px;top:2538px;font-size:44.25px;line-height:44.25px;color:#ec3f5c;transform:scaleX(1.0189);-webkit-text-stroke:1.1px #ec3f5c;">50%</span>
<span class="t" style="left:1039.0px;top:2538px;font-size:44.25px;line-height:44.25px;color:#ec3f5c;transform:scaleX(0.9893);-webkit-text-stroke:1.1px #ec3f5c;">100%</span>
<svg class="abs" style="left:40px;top:2350px" width="200" height="50" viewBox="40 2350 200 50">
<g fill="none" stroke="#5c6068" stroke-width="2.500" stroke-linecap="round" stroke-linejoin="round">
<path d="M51.500 2388.600h23.200"/>
<path d="M63 2362.600C64.800 2363.600 65.200 2365.800 62.800 2367.400L58.800 2369.800 52.700 2371.500C50.400 2372.400 50.200 2374 51.200 2375L53.700 2378.600"/>
<path d="M58.800 2370.100 62.800 2375.500C64.600 2377.600 65 2379 64.800 2380.500L63.800 2386"/>
<path d="M62.800 2375.200C64.500 2373.600 67.500 2373.500 68.800 2374.500L74 2378.400"/>
<path d="M195.600 2387.200V2366.400a2 2 0 0 1 2-2h6.900a2 2 0 0 1 2 2V2387.200"/><path d="M194 2387.200H208.200"/>
<path d="M195.600 2375.800H210.800a2.400 2.400 0 0 1 2.400 2.400V2384a3.200 3.200 0 0 0 6.400 0V2371.500"/>
<path d="M213.900 2364.200 217 2366.800"/>
</g>
<circle cx="52.900" cy="2365.100" r="3" fill="#5c6068"/>
<path d="M215.400 2364.600 220.800 2369.200V2373l-2.600.8-3-2.400V2366.600z" fill="#5c6068"/>
</svg>
<svg class="abs" style="left:40px;top:2616.9px" width="200" height="50" viewBox="40 2350 200 50">
<g fill="none" stroke="#5c6068" stroke-width="2.500" stroke-linecap="round" stroke-linejoin="round">
<path d="M51.500 2388.600h23.200"/>
<path d="M63 2362.600C64.800 2363.600 65.200 2365.800 62.800 2367.400L58.800 2369.800 52.700 2371.500C50.400 2372.400 50.200 2374 51.200 2375L53.700 2378.600"/>
<path d="M58.800 2370.100 62.800 2375.500C64.600 2377.600 65 2379 64.800 2380.500L63.800 2386"/>
<path d="M62.800 2375.200C64.500 2373.600 67.500 2373.500 68.800 2374.500L74 2378.400"/>
<path d="M195.600 2387.200V2366.400a2 2 0 0 1 2-2h6.900a2 2 0 0 1 2 2V2387.200"/><path d="M194 2387.200H208.200"/>
<path d="M195.600 2375.800H210.800a2.400 2.400 0 0 1 2.400 2.400V2384a3.200 3.200 0 0 0 6.400 0V2371.500"/>
<path d="M213.900 2364.200 217 2366.800"/>
</g>
<circle cx="52.900" cy="2365.100" r="3" fill="#5c6068"/>
<path d="M215.400 2364.600 220.800 2369.200V2373l-2.600.8-3-2.400V2366.600z" fill="#5c6068"/>
</svg>
</section>

</div>
</body>
</html>
